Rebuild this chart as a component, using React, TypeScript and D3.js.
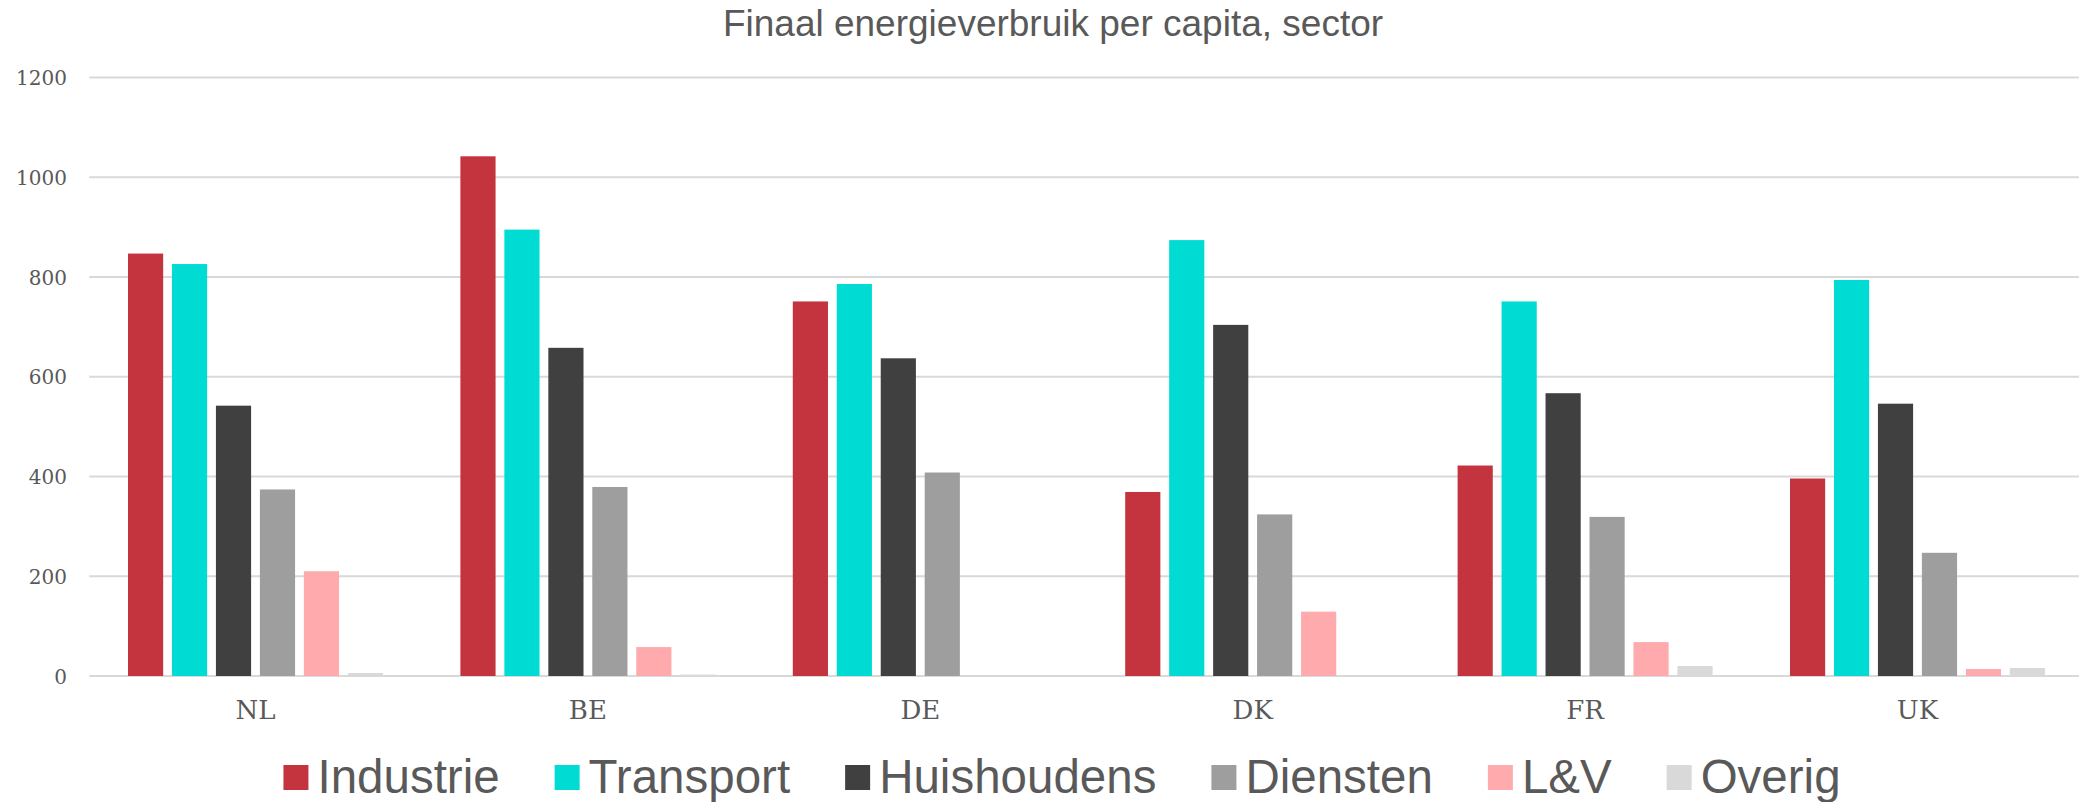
import React from "react";
import * as d3 from "d3";

const title = "Finaal energieverbruik per capita, sector";
const categories = ["NL", "BE", "DE", "DK", "FR", "UK"];
const seriesNames = ["Industrie", "Transport", "Huishoudens", "Diensten", "L&V", "Overig"];
const seriesColors = ["#C4343F", "#00DCD4", "#404040", "#9E9E9E", "#FFABAE", "#D9D9D9"];
const industrie = [847, 1042, 751, 369, 422, 396];
const transport = [826, 895, 786, 874, 751, 794];
const huishoudens = [542, 658, 637, 704, 567, 546];
const diensten = [374, 379, 408, 324, 319, 247];
const lenv = [210, 58, 0, 129, 68, 14];
const overig = [6, 3, 1, 1, 20, 16];
const yTicks = [0, 200, 400, 600, 800, 1000, 1200];

const seriesValues = [industrie, transport, huishoudens, diensten, lenv, overig];

const W = 2079;
const H = 802;
const TEXT = "#595959";

function measure(text: string, font: string): number {
  try {
    const c = document.createElement("canvas");
    const ctx = c.getContext("2d");
    if (!ctx) return text.length * 20;
    ctx.font = font;
    return ctx.measureText(text).width;
  } catch (e) {
    return text.length * 20;
  }
}

export default function App() {
  const plotLeft = 89.3;
  const plotRight = 2083.7;
  const x0 = d3.scaleBand<string>().domain(categories).range([plotLeft, plotRight]).paddingInner(0).paddingOuter(0);
  const bw = x0.bandwidth();
  const groupW = 255;
  const x1 = d3
    .scaleBand<string>()
    .domain(seriesNames)
    .range([(bw - groupW) / 2, (bw + groupW) / 2])
    .paddingInner(0.2)
    .paddingOuter(0);
  const y = d3.scaleLinear().domain([0, 1200]).range([676, 77.5]);

  const legendFont = "47.5px 'Liberation Sans', Arial, sans-serif";
  const sq = 25;
  const textOff = 34;
  const gap = 55;
  const widths = seriesNames.map((n) => measure(n, legendFont));
  const total = widths.reduce((a, w) => a + sq + (textOff - sq) + w, 0) + gap * (seriesNames.length - 1);
  let cursor = 1062 - total / 2;
  const legendItems = seriesNames.map((n, i) => {
    const item = { name: n, color: seriesColors[i], x: cursor };
    cursor += textOff + widths[i] + gap;
    return item;
  });

  return (
    <div style={{ position: "absolute", left: 0, top: 0 }}>
      <svg width={W} height={H} style={{ display: "block", background: "#fff" }}>
        <text
          x={1053}
          y={36}
          textAnchor="middle"
          fontFamily="'Liberation Sans', Arial, sans-serif"
          fontSize={37}
          fill={TEXT}
        >
          {title}
        </text>
        {yTicks.map((t) => (
          <g key={t}>
            <line x1={plotLeft} x2={W + 10} y1={y(t)} y2={y(t)} stroke="#D9D9D9" strokeWidth={2} />
            <text
              x={67}
              y={y(t) + 7.5}
              textAnchor="end"
              fontFamily="'DejaVu Serif', serif"
              fontSize={20}
              fill={TEXT}
            >
              {t}
            </text>
          </g>
        ))}
        {categories.map((c, ci) => (
          <g key={c} transform={`translate(${x0(c)},0)`}>
            {seriesNames.map((s, si) => {
              const v = seriesValues[si][ci];
              if (v <= 0) return null;
              return (
                <rect
                  key={s}
                  x={x1(s)}
                  y={y(v)}
                  width={x1.bandwidth()}
                  height={y(0) - y(v)}
                  fill={seriesColors[si]}
                />
              );
            })}
            <text
              x={bw / 2}
              y={719}
              textAnchor="middle"
              fontFamily="'DejaVu Serif', serif"
              fontSize={26}
              fill={TEXT}
            >
              {c}
            </text>
          </g>
        ))}
        {legendItems.map((it) => (
          <g key={it.name}>
            <rect x={it.x} y={765} width={sq} height={sq} fill={it.color} />
            <text
              x={it.x + textOff}
              y={792.5}
              fontFamily="'Liberation Sans', Arial, sans-serif"
              fontSize={47.5}
              fill={TEXT}
            >
              {it.name}
            </text>
          </g>
        ))}
      </svg>
    </div>
  );
}
